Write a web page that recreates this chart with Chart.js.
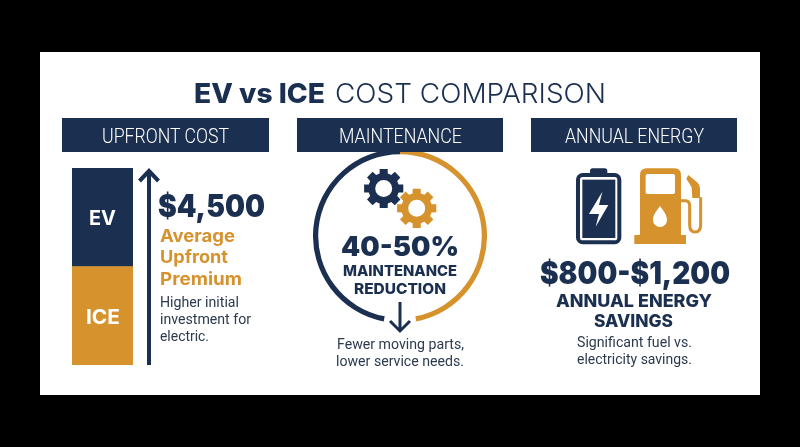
<!DOCTYPE html>
<html>
<head>
<meta charset="utf-8">
<title>EV vs ICE Cost Comparison</title>
<script src="https://cdn.jsdelivr.net/npm/chart.js@4"></script>
<style>
  html,body{margin:0;padding:0;background:#000;width:800px;height:447px;overflow:hidden;}
  #panel{position:absolute;left:40px;top:52px;width:720px;height:343px;background:#fff;}
  canvas{position:absolute;display:block;}
  #barChart{left:72px;top:168px;}
  #ringChart{left:313px;top:149px;}
  #overlay{position:absolute;left:0;top:0;}
</style>
</head>
<body>
<div id="panel"></div>
<canvas id="barChart" width="61" height="197"></canvas>
<canvas id="ringChart" width="174" height="174"></canvas>
<svg id="overlay" width="800" height="447" viewBox="0 0 800 447" xmlns="http://www.w3.org/2000/svg"></svg>
<script>
const NAVY = '#1b3050';
const GOLD = '#d6922d';
const SLATE = '#2c3a4e';

// upfront cost column, drawn as two equal stacked blocks
const costCategories = ['Upfront'];
const iceBlock = [50];
const evBlock = [50];

// maintenance ring: gold half, opening for the arrow, navy half
const ringSegments = ['Gold', 'Opening', 'Navy'];
const ringValues = [47, 6, 47];

const headers = ['UPFRONT COST', 'MAINTENANCE', 'ANNUAL ENERGY'];

new Chart(document.getElementById('barChart'), {
  type: 'bar',
  data: {
    labels: costCategories,
    datasets: [
      {label: 'ICE', data: iceBlock, backgroundColor: GOLD, barPercentage: 1, categoryPercentage: 1},
      {label: 'EV', data: evBlock, backgroundColor: NAVY, barPercentage: 1, categoryPercentage: 1}
    ]
  },
  options: {
    responsive: false, animation: false,
    plugins: {legend: {display: false}, tooltip: {enabled: false}},
    scales: {
      x: {stacked: true, display: false},
      y: {stacked: true, display: false, min: 0, max: 100}
    }
  }
});

new Chart(document.getElementById('ringChart'), {
  type: 'doughnut',
  data: {
    labels: ringSegments,
    datasets: [{data: ringValues, backgroundColor: [GOLD, 'rgba(0,0,0,0)', NAVY], borderWidth: 0}]
  },
  options: {
    responsive: false, animation: false, cutout: '94%',
    plugins: {legend: {display: false}, tooltip: {enabled: false}}
  }
});

const svg = document.getElementById('overlay');
const NS = 'http://www.w3.org/2000/svg';

function shape(tag, attrs, parent){
  const el = document.createElementNS(NS, tag);
  Object.keys(attrs).forEach(k => el.setAttribute(k, attrs[k]));
  (parent || svg).appendChild(el);
  return el;
}

// x is the left edge, len is the measured width in the reference
function label(str, x, y, size, weight, color, len, family){
  const t = shape('text', {
    x: x, y: y, fill: color,
    'font-family': family || 'Inter', 'font-size': size, 'font-weight': weight
  });
  if(len){ t.setAttribute('textLength', len); t.setAttribute('lengthAdjust', 'spacingAndGlyphs'); }
  t.textContent = str;
}

function gear(cx, cy, outer, inner, hole, color){
  const teeth = 8;
  let d = '';
  for(let i = 0; i < teeth; i++){
    const a = i * Math.PI * 2 / teeth;
    const w = 0.27, w2 = 0.2;
    const pts = [[inner, a - w], [outer, a - w2], [outer, a + w2], [inner, a + w]];
    pts.forEach((p, j) => {
      const px = cx + p[0] * Math.sin(p[1]), py = cy - p[0] * Math.cos(p[1]);
      d += (i === 0 && j === 0 ? 'M' : 'L') + px.toFixed(1) + ' ' + py.toFixed(1) + ' ';
    });
  }
  d += 'Z M' + (cx + hole) + ' ' + cy + ' a' + hole + ' ' + hole + ' 0 1 0 ' + (-2 * hole) + ' 0 a' + hole + ' ' + hole + ' 0 1 0 ' + (2 * hole) + ' 0 Z';
  shape('path', {d: d, fill: color, 'fill-rule': 'evenodd'});
}

// header bars
[[62, 207], [297, 206], [531, 206]].forEach(b => {
  shape('rect', {x: b[0], y: 118, width: b[1], height: 34, fill: NAVY});
});
label(headers[0], 102, 143, 20, 300, '#fff', 127, 'Roboto');
label(headers[1], 339, 143, 20, 300, '#fff', 123, 'Roboto');
label(headers[2], 565, 143, 20, 300, '#fff', 139, 'Roboto');

// title
label('EV vs ICE', 194, 103, 27.5, 800, NAVY, 131);
label('COST COMPARISON', 335, 103, 27.5, 300, NAVY, 271);

// upfront column
label('EV', 89, 225, 20, 700, '#fff', 27);
label('ICE', 86, 324, 20, 700, '#fff', 34);
shape('path', {d: 'M149 365 V170 M139.5 181 L149 171 L158.5 181', fill: 'none', stroke: NAVY, 'stroke-width': 4});
label('$4,500', 158, 217, 31, 900, NAVY, 107);
label('Average', 160, 242, 17.5, 700, GOLD, 75);
label('Upfront', 160, 263, 17.5, 700, GOLD, 68);
label('Premium', 160, 285, 17.5, 700, GOLD, 82);
label('Higher initial', 160, 307, 14, 400, SLATE, 79, 'Roboto');
label('investment for', 160, 324, 14, 400, SLATE, 91, 'Roboto');
label('electric.', 160, 341, 14, 400, SLATE, 49, 'Roboto');

// maintenance
gear(383.7, 188.5, 20, 15.5, 8.5, NAVY);
gear(416.7, 208.3, 20, 15.5, 8.5, GOLD);
label('40-50%', 341, 255.5, 26.5, 900, NAVY, 118);
label('MAINTENANCE', 343, 276, 14.5, 800, NAVY, 114);
label('REDUCTION', 354, 294, 14.5, 800, NAVY, 92);
shape('path', {d: 'M400 302 V331 M390 321 L400 331 L410 321', fill: 'none', stroke: NAVY, 'stroke-width': 3});
label('Fewer moving parts,', 337, 349, 14, 400, SLATE, 127, 'Roboto');
label('lower service needs.', 336, 366, 14, 400, SLATE, 128, 'Roboto');

// energy icons, traced in 3x crop coordinates
const icons = shape('g', {transform: 'translate(525,110) scale(0.3333)'});
shape('rect', {x: 195, y: 175, width: 52, height: 24, rx: 8, fill: NAVY}, icons);
shape('rect', {x: 159, y: 195, width: 124, height: 202, rx: 14, fill: '#fff', stroke: NAVY, 'stroke-width': 12}, icons);
shape('rect', {x: 172, y: 209, width: 99, height: 175, fill: NAVY}, icons);
shape('path', {d: 'M232 245 L192 312 L222 312 L212 350 L250 285 L222 285 Z', fill: '#fff'}, icons);
shape('path', {d: 'M345 375 V195 Q345 175 365 175 H448 Q468 175 468 195 V375 H483 V402 H328 V375 Z', fill: GOLD}, icons);
shape('rect', {x: 362, y: 192, width: 88, height: 60, rx: 5, fill: '#fff'}, icons);
shape('path', {d: 'M405 288 C392 306 384 316 384 330 A21 21 0 0 0 426 330 C426 316 418 306 405 288 Z', fill: '#fff'}, icons);
shape('path', {d: 'M468 272 H482 Q494 272 494 288 V345 Q494 366 510 366 Q527 366 527 345 V262', fill: 'none', stroke: GOLD, 'stroke-width': 9}, icons);
shape('path', {d: 'M490 195 L518 218 Q525 225 525 235 V264 H502 L500 232 L484 206 Z', fill: GOLD}, icons);

label('$800-$1,200', 540, 284, 31, 900, NAVY, 190);
label('ANNUAL ENERGY', 556, 307, 17.5, 800, NAVY, 156);
label('SAVINGS', 594, 327, 17.5, 800, NAVY, 79);
label('Significant fuel vs.', 577, 347, 14, 400, SLATE, 115, 'Roboto');
label('electricity savings.', 577, 364, 14, 400, SLATE, 115, 'Roboto');
</script>
</body>
</html>
